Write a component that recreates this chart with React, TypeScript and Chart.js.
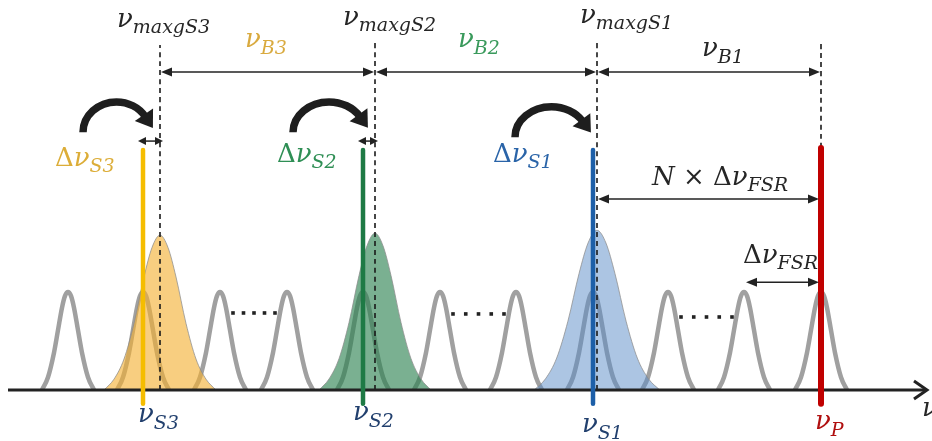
import { useEffect, useRef } from 'react';
import { Chart, registerables } from 'chart.js';

Chart.register(...registerables);

// Frequency axis in arbitrary units; amplitude normalised to the cavity-mode height.
const modeCenters = [68, 143, 220, 287, 363, 440, 516, 593, 668, 744, 821];
const modeHeight = 1.0;
const modeShapeDx = [-26, -20, -14, -10, -6, -3, 0, 3, 6, 10, 14, 20, 26];
const modeShapeY = [0, 0.13, 0.38, 0.61, 0.84, 0.96, 1, 0.96, 0.84, 0.61, 0.38, 0.13, 0];

// Brillouin gain curves (S3, S2, S1)
const gainCenters = [160, 375, 597];
const gainHeights = [1.58, 1.6, 1.63];
const gainWidths = [1.0, 1.0, 1.12];
const gainShapeDx = [-56, -46, -36, -26, -16, -8, 0, 8, 16, 26, 36, 46, 56];
const gainShapeY = [0, 0.07, 0.2, 0.43, 0.73, 0.92, 1, 0.92, 0.73, 0.43, 0.2, 0.07, 0];
const gainFills = ['rgba(244,176,50,0.62)', 'rgba(40,128,78,0.62)', 'rgba(90,140,200,0.5)'];

// Lasers: S3, S2, S1, pump
const laserFreqs = [143, 363, 593, 821];
const laserTops = [2.45, 2.45, 2.45, 2.47];
const laserBottom = -0.14;
const laserColors = ['#f5bd00', '#1e7a45', '#1d5fa8', '#c00000'];
const laserWidths = [4.5, 4.5, 4.5, 6];

// Annotation values
const dashedTops = [3.52, 3.57, 3.57, 3.57];
const brillouinArrowY = 3.245;
const maxgLabels = ['maxgS3', 'maxgS2', 'maxgS1'];
const brillouinLabels = ['B3', 'B2', 'B1'];
const shiftLabels = ['S3', 'S2', 'S1'];
const laserLabels = ['S3', 'S2', 'S1', 'P'];
const shiftArrowY = 2.54;
const curveFrom = [83, 293, 515];
const curveTo = [150, 365, 588];
const curveBase = [2.63, 2.63, 2.58];
const curveTop = [2.94, 2.94, 2.89];
const nFsrArrowY = 1.95;
const fsrArrowY = 1.1;
const dotGaps = [[2, 3], [5, 6], [8, 9]];
const dotLevels = [0.786, 0.776, 0.745];

type Seg = { t: string; it?: boolean; sub?: boolean };

function drawMath(ctx: CanvasRenderingContext2D, x: number, y: number, segs: Seg[], color: string, size = 26, subSize = 18, drop = 6) {
  ctx.save();
  ctx.fillStyle = color;
  ctx.textBaseline = 'alphabetic';
  ctx.textAlign = 'left';
  let cx = x;
  for (const s of segs) {
    const fs = s.sub ? subSize : size;
    ctx.font = `${s.it ? 'italic ' : ''}${fs}px "DejaVu Serif"`;
    ctx.fillText(s.t, cx, s.sub ? y + drop : y);
    cx += ctx.measureText(s.t).width;
  }
  ctx.restore();
}

function head(ctx: CanvasRenderingContext2D, tx: number, ty: number, dx: number, dy: number, len: number, half: number) {
  const n = Math.hypot(dx, dy);
  const ux = dx / n, uy = dy / n;
  const bx = tx - ux * len, by = ty - uy * len;
  ctx.beginPath();
  ctx.moveTo(tx, ty);
  ctx.lineTo(bx - uy * half, by + ux * half);
  ctx.lineTo(bx + uy * half, by - ux * half);
  ctx.closePath();
  ctx.fill();
}

function dblArrow(ctx: CanvasRenderingContext2D, x0: number, x1: number, y: number, lw = 1.5, len = 10, half = 4) {
  ctx.save();
  ctx.strokeStyle = '#222';
  ctx.fillStyle = '#222';
  ctx.lineWidth = lw;
  ctx.beginPath();
  ctx.moveTo(x0 + len * 0.5, y);
  ctx.lineTo(x1 - len * 0.5, y);
  ctx.stroke();
  head(ctx, x0, y, -1, 0, len, half);
  head(ctx, x1, y, 1, 0, len, half);
  ctx.restore();
}

const annotations = {
  id: 'annotations',
  afterDatasetsDraw(chart: any) {
    const ctx: CanvasRenderingContext2D = chart.ctx;
    const X = (v: number) => chart.scales.x.getPixelForValue(v);
    const Y = (v: number) => chart.scales.y.getPixelForValue(v);

    // axis arrow head (chevron)
    ctx.save();
    ctx.strokeStyle = '#222';
    ctx.lineWidth = 3;
    ctx.lineJoin = 'miter';
    ctx.beginPath();
    ctx.moveTo(X(914), Y(0) - 9);
    ctx.lineTo(X(927), Y(0));
    ctx.lineTo(X(914), Y(0) + 9);
    ctx.stroke();
    ctx.restore();

    // Brillouin shift arrows
    const bPts = [...gainCenters, laserFreqs[3]];
    for (let i = 0; i < 3; i++) {
      dblArrow(ctx, X(bPts[i]) + 1, X(bPts[i + 1]) - 1, Y(brillouinArrowY), 1.5, 11, 4.5);
    }
    // N x FSR and FSR arrows
    dblArrow(ctx, X(gainCenters[2]) + 1, X(laserFreqs[3]) - 2, Y(nFsrArrowY), 1.5, 11, 4.5);
    dblArrow(ctx, X(modeCenters[9]) + 2, X(modeCenters[10]) - 2, Y(fsrArrowY), 1.5, 11, 4.5);

    // small detuning arrows (S3, S2)
    for (let i = 0; i < 2; i++) {
      dblArrow(ctx, X(laserFreqs[i]) - 5, X(gainCenters[i]) + 3, Y(shiftArrowY), 1.5, 8, 4);
    }

    // curved arrows
    ctx.save();
    ctx.strokeStyle = '#1e1e1e';
    ctx.fillStyle = '#1e1e1e';
    for (let i = 0; i < 3; i++) {
      const x0 = X(curveFrom[i]), x1 = X(curveTo[i]);
      const cy = Y(curveBase[i]);
      const cx = (x0 + x1) / 2;
      const rx = (x1 - x0) / 2;
      const ry = cy - Y(curveTop[i]);
      const endA = 2 * Math.PI - 0.55;
      ctx.lineWidth = 7.5;
      ctx.lineCap = 'butt';
      ctx.beginPath();
      ctx.ellipse(cx, cy, rx, ry, 0, Math.PI, endA);
      ctx.stroke();
      const ex = cx + rx * Math.cos(endA), ey = cy + ry * Math.sin(endA);
      const tx = -rx * Math.sin(endA), ty = ry * Math.cos(endA);
      const n = Math.hypot(tx, ty);
      head(ctx, ex + (tx / n) * 14, ey + (ty / n) * 14, tx, ty, 16, 11);
    }
    ctx.restore();

    // dotted ellipses
    ctx.save();
    ctx.fillStyle = '#222';
    dotGaps.forEach(([a, b], i) => {
      const xa = X(modeCenters[a]) + 13, xb = X(modeCenters[b]) - 12;
      const y = Y(dotLevels[i]);
      for (let k = 0; k < 5; k++) {
        const x = xa + ((xb - xa) * k) / 4;
        ctx.fillRect(x - 1.8, y - 1.8, 3.6, 3.6);
      }
    });
    ctx.restore();

    // top labels
    const dark = '#262626';
    const maxgPos = [[117, 27], [343, 25], [580, 23]];
    maxgLabels.forEach((l, i) => {
      drawMath(ctx, maxgPos[i][0], maxgPos[i][1], [{ t: 'ν', it: true }, { t: l, it: true, sub: true }], dark, 26, 19, 6);
    });
    const bPos = [[245, 47], [458, 47], [702, 56]];
    const bCols = ['#d9aa3f', '#3a9a5c', dark];
    brillouinLabels.forEach((l, i) => {
      drawMath(ctx, bPos[i][0], bPos[i][1], [{ t: 'ν', it: true }, { t: l, it: true, sub: true }], bCols[i], 26, 19, 7);
    });
    const sPos = [[55, 166], [277, 162], [493, 162]];
    const sCols = ['#dcad38', '#2f8f55', '#2a64a8'];
    shiftLabels.forEach((l, i) => {
      drawMath(ctx, sPos[i][0], sPos[i][1], [{ t: 'Δ' }, { t: 'ν', it: true }, { t: l, it: true, sub: true }], sCols[i], 26, 19, 6);
    });
    drawMath(ctx, 652, 185, [{ t: 'N', it: true }, { t: ' × ' }, { t: 'Δ' }, { t: 'ν', it: true }, { t: 'FSR', it: true, sub: true }], dark, 26, 19, 6);
    drawMath(ctx, 743, 263, [{ t: 'Δ' }, { t: 'ν', it: true }, { t: 'FSR', it: true, sub: true }], dark, 26, 19, 6);

    // bottom labels
    const lPos = [[138, 422], [353, 420], [582, 432], [815, 429]];
    const lCols = ['#22406e', '#22406e', '#22406e', '#b01010'];
    laserLabels.forEach((l, i) => {
      drawMath(ctx, lPos[i][0], lPos[i][1], [{ t: 'ν', it: true }, { t: l, it: true, sub: true }], lCols[i], 26, 19, 7);
    });
    drawMath(ctx, 922, 416, [{ t: 'ν', it: true }], dark, 26);
  },
};

export default function App() {
  const ref = useRef<HTMLCanvasElement>(null);
  useEffect(() => {
    const canvas = ref.current;
    if (!canvas) return;
    const datasets: any[] = [];

    modeCenters.forEach((c) => {
      datasets.push({
        data: modeShapeDx.map((d, k) => ({ x: c + d, y: modeShapeY[k] * modeHeight })),
        borderColor: '#a0a0a0',
        borderWidth: 4.5,
        pointRadius: 0,
        fill: false,
        cubicInterpolationMode: 'monotone',
        order: 6,
      });
    });
    gainCenters.forEach((c, i) => {
      datasets.push({
        data: gainShapeDx.map((d, k) => ({ x: c + d * gainWidths[i], y: gainShapeY[k] * gainHeights[i] })),
        borderColor: 'rgba(140,140,140,0.75)',
        borderWidth: 1,
        backgroundColor: gainFills[i],
        fill: 'origin',
        pointRadius: 0,
        cubicInterpolationMode: 'monotone',
        order: 5,
      });
    });
    [...gainCenters, laserFreqs[3]].forEach((c, i) => {
      datasets.push({
        data: [{ x: c, y: i < 3 ? 0 : laserTops[3] }, { x: c, y: dashedTops[i] }],
        borderColor: '#1a1a1a',
        borderWidth: 1.6,
        borderDash: [5, 4],
        pointRadius: 0,
        fill: false,
        order: 4,
      });
    });
    datasets.push({
      data: [{ x: 8, y: 0 }, { x: 925, y: 0 }],
      borderColor: '#222',
      borderWidth: 3,
      pointRadius: 0,
      fill: false,
      order: 2,
    });
    laserFreqs.forEach((f, i) => {
      datasets.push({
        data: [{ x: f, y: laserBottom }, { x: f, y: laserTops[i] }],
        borderColor: laserColors[i],
        borderWidth: laserWidths[i],
        borderCapStyle: 'round',
        pointRadius: 0,
        fill: false,
        order: 1,
      });
    });

    const chart = new Chart(canvas, {
      type: 'line',
      data: { datasets },
      options: {
        responsive: false,
        maintainAspectRatio: false,
        animation: false,
        layout: { padding: 0 },
        plugins: { legend: { display: false }, tooltip: { enabled: false } },
        scales: {
          x: { type: 'linear', min: 0, max: 932, display: false },
          y: { type: 'linear', min: -0.5204, max: 3.9796, display: false },
        },
        elements: { line: { tension: 0.4 } },
      },
      plugins: [annotations],
    } as any);
    return () => chart.destroy();
  }, []);

  return (
    <div style={{ position: 'absolute', left: 0, top: 0, width: 932, height: 441, background: '#fff' }}>
      <canvas ref={ref} width={932} height={441} style={{ display: 'block' }} />
    </div>
  );
}
